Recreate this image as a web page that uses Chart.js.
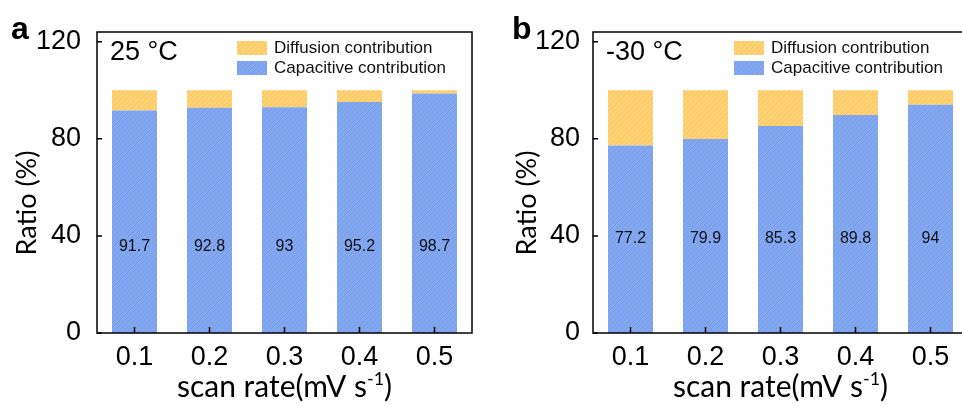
<!DOCTYPE html>
<html>
<head>
<meta charset="utf-8">
<script src="https://cdn.jsdelivr.net/npm/chart.js@4/dist/chart.umd.min.js"></script>
<style>
  html, body { margin: 0; padding: 0; background: #fff; overflow: hidden; width: 962px; height: 406px; }
  canvas { position: absolute; top: 0; }
  #ca { left: 0; }
  #cb { left: 480px; }
</style>
</head>
<body>
<canvas id="ca" width="480" height="406"></canvas>
<canvas id="cb" width="500" height="406"></canvas>
<script>
// Scan rates (mV s-1)
const scanRates = ['0.1', '0.2', '0.3', '0.4', '0.5'];
// Capacitive / diffusion shares (%) at 25 °C
const capacitive25 = [91.7, 92.8, 93, 95.2, 98.7];
const diffusion25 = [8.3, 7.2, 7, 4.8, 1.3];
// Capacitive / diffusion shares (%) at -30 °C
const capacitiveM30 = [77.2, 79.9, 85.3, 89.8, 94];
const diffusionM30 = [22.8, 20.1, 14.7, 10.2, 6];
const yTicks = [0, 40, 80, 120];

const SANS = '"Liberation Sans", Arial, sans-serif';
const TITLE_FONT = '27px Lato, "Open Sans", sans-serif';
const XTITLE_FONT = '30px Lato, "Open Sans", sans-serif';
const SUP_FONT = '18px Lato, "Open Sans", sans-serif';

function hatch(base, line) {
  const c = document.createElement('canvas');
  c.width = 5; c.height = 5;
  const g = c.getContext('2d');
  g.fillStyle = base; g.fillRect(0, 0, 5, 5);
  g.strokeStyle = line; g.lineWidth = 0.8;
  g.beginPath();
  g.moveTo(-1, 6); g.lineTo(6, -1);
  g.moveTo(-1, 1); g.lineTo(1, -1);
  g.moveTo(4, 6); g.lineTo(6, 4);
  g.stroke();
  return g.createPattern(c, 'repeat');
}
const yellowFill = hatch('#FFD274', '#F2BE5E');
const blueFill = hatch('#82A8F2', '#7695E2');

// Box, inward ticks, legend, annotations and axis titles
const decor = {
  id: 'decor',
  afterDraw(chart, args, o) {
    const ctx = chart.ctx;
    const a = chart.chartArea;
    const xs = chart.scales.x, ys = chart.scales.y;
    ctx.save();
    ctx.strokeStyle = '#000';
    ctx.lineWidth = 1.5;
    ctx.strokeRect(a.left, a.top, a.right - a.left, a.bottom - a.top);
    ctx.beginPath();
    yTicks.forEach(v => {
      const y = ys.getPixelForValue(v);
      ctx.moveTo(a.left, y); ctx.lineTo(a.left + 5, y);
    });
    scanRates.forEach((_, i) => {
      const x = xs.getPixelForValue(i);
      ctx.moveTo(x, a.bottom); ctx.lineTo(x, a.bottom - 6);
    });
    ctx.stroke();

    // value labels on the capacitive bars
    ctx.fillStyle = '#111';
    ctx.font = '16px ' + SANS;
    ctx.textAlign = 'center';
    ctx.textBaseline = 'middle';
    const cap = chart.data.datasets[0].data;
    cap.forEach((v, i) => {
      ctx.fillText(String(v), xs.getPixelForValue(i), ys.getPixelForValue(o.labelAt));
    });

    // temperature
    ctx.textAlign = 'left';
    ctx.font = '27px ' + SANS;
    ctx.fillStyle = '#000';
    ctx.fillText(o.temp, a.left + 13, 53);

    // legend
    const ds = chart.data.datasets;
    const rows = [ds[1], ds[0]];
    ctx.font = '17px ' + SANS;
    rows.forEach((d, k) => {
      const y = 41 + k * 20;
      ctx.fillStyle = d.backgroundColor;
      ctx.fillRect(o.legendX, y, 30, 14);
      ctx.fillStyle = '#111';
      ctx.fillText(d.label, o.legendX + 37, y + 7);
    });

    // panel letter
    ctx.font = 'bold 32px ' + SANS;
    ctx.fillStyle = '#000';
    ctx.fillText(o.letter, o.letterX, 30);

    // y title
    ctx.font = TITLE_FONT;
    ctx.textBaseline = 'alphabetic';
    ctx.save();
    ctx.translate(o.yTitleX, 203);
    ctx.rotate(-Math.PI / 2);
    ctx.textAlign = 'center';
    ctx.fillText('Ratio (%)', 0, 0);
    ctx.restore();

    // x title with superscript
    const main = 'scan rate(mV s';
    const sup = '-1';
    const tail = ')';
    ctx.font = XTITLE_FONT;
    const w1 = ctx.measureText(main).width;
    const w3 = ctx.measureText(tail).width;
    ctx.font = SUP_FONT;
    const w2 = ctx.measureText(sup).width;
    const cx = (a.left + a.right) / 2;
    let x = cx - (w1 + w2 + w3) / 2;
    ctx.textAlign = 'left';
    ctx.font = XTITLE_FONT;
    ctx.fillText(main, x, 397);
    x += w1;
    ctx.font = SUP_FONT;
    ctx.fillText(sup, x, 385);
    x += w2;
    ctx.font = XTITLE_FONT;
    ctx.fillText(tail, x, 397);
    ctx.restore();
  }
};

function makeChart(id, cap, diff, opts) {
  return new Chart(document.getElementById(id), {
    type: 'bar',
    data: {
      labels: scanRates,
      datasets: [
        { label: 'Capacitive contribution', data: cap, backgroundColor: blueFill, borderWidth: 0 },
        { label: 'Diffusion contribution', data: diff, backgroundColor: yellowFill, borderWidth: 0 }
      ]
    },
    options: {
      responsive: false,
      animation: false,
      events: [],
      layout: { padding: { left: 0, right: opts.padRight, top: 32, bottom: 0 } },
      datasets: { bar: { barPercentage: 0.6, categoryPercentage: 1 } },
      plugins: {
        legend: { display: false },
        tooltip: { enabled: false },
        decor: opts
      },
      scales: {
        x: {
          stacked: true,
          grid: { display: false },
          border: { display: false },
          ticks: { color: '#000', font: { family: SANS, size: 27 }, padding: 0 },
          afterFit: s => { s.height = 73; }
        },
        y: {
          stacked: true,
          min: 0, max: 124,
          grid: { display: false },
          border: { display: false },
          ticks: { stepSize: 40, includeBounds: false, color: '#000', padding: opts.yPad,
                   font: { family: SANS, size: 27 } },
          afterFit: s => { s.width = opts.axisW; }
        }
      }
    },
    plugins: [decor]
  });
}

makeChart('ca', capacitive25, diffusion25, {
  padRight: 8, axisW: 97, yPad: 8, temp: '25 °C', legendX: 237, letter: 'a', letterX: 11,
  yTitleX: 36, labelAt: 35.6
});
makeChart('cb', capacitiveM30, diffusionM30, {
  padRight: 12, axisW: 113, yPad: 5, temp: '-30 °C', legendX: 254, letter: 'b', letterX: 32,
  yTitleX: 56, labelAt: 38.8
});
</script>
</body>
</html>
